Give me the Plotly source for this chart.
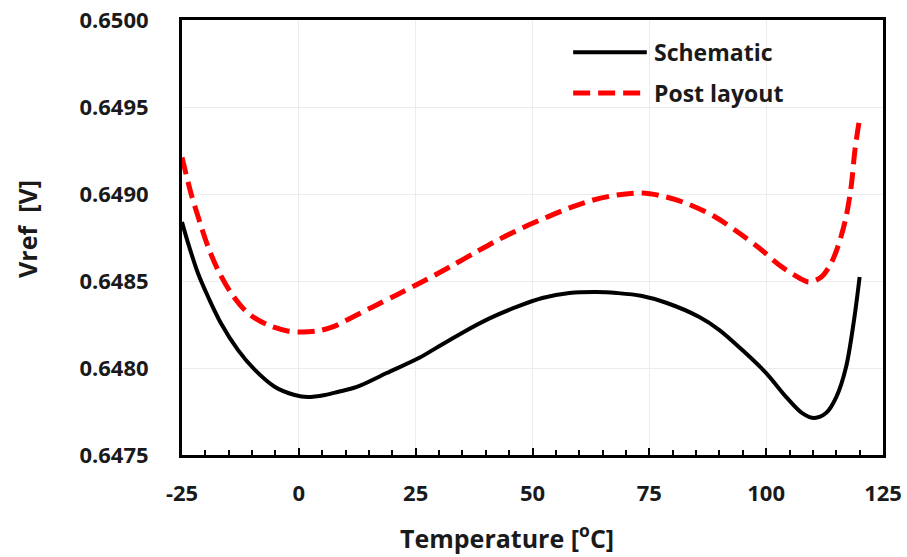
import plotly.graph_objects as go

# Schematic simulation: temperature (°C) and reference voltage (V)
temp_schematic = [-25, -23.7, -21.6, -19.4, -16.7, -13.0, -9.4, -5.1, -0.9, 1.9, 5.6,
                  8.3, 12.4, 18.8, 25.9, 29.5, 35.0, 40.8, 46.6, 52.1, 57.9, 63.7, 68.0,
                  73.2, 78.6, 85.7, 90.0, 94.9, 100.0, 104.3, 107.7, 110.3, 112.8, 115.0,
                  117.1, 118.8, 120]
vref_schematic = [0.648839, 0.648718, 0.648546, 0.648408, 0.648259, 0.648103, 0.647989,
                  0.647891, 0.647845, 0.647833, 0.647845, 0.647862, 0.647891, 0.647971,
                  0.648060, 0.648117, 0.648203, 0.648285, 0.648351, 0.648402, 0.648431,
                  0.648437, 0.648431, 0.648415, 0.648375, 0.648293, 0.648218, 0.648103,
                  0.647971, 0.647833, 0.647741, 0.647713, 0.647741, 0.647833, 0.648006,
                  0.648276, 0.648523]

# Post-layout simulation: temperature (°C) and reference voltage (V)
temp_post_layout = [-25, -23.1, -21.2, -19.4, -17.3, -14.5, -10.9, -6.6, -2.4, 0.4, 4.0,
                    7.7, 10.3, 15.8, 20.9, 25.9, 28.0, 32.9, 38.0, 42.9, 47.9, 53.0, 57.9,
                    62.8, 68.0, 73.5, 78.6, 83.5, 89.3, 94.2, 98.5, 102.8, 107.1, 109.2,
                    111.8, 113.9, 115.6, 117.1, 118.2, 119.0, 120]
vref_post_layout = [0.649210, 0.649006, 0.648839, 0.648695, 0.648563, 0.648431, 0.648316,
                    0.648247, 0.648213, 0.648207, 0.648213, 0.648241, 0.648276, 0.648351,
                    0.648420, 0.648489, 0.648518, 0.648590, 0.648668, 0.648740, 0.648806,
                    0.648866, 0.648920, 0.648964, 0.648994, 0.649006, 0.648983, 0.648940,
                    0.648865, 0.648776, 0.648690, 0.648592, 0.648517, 0.648494, 0.648523,
                    0.648603, 0.648718, 0.648868, 0.649045, 0.649253, 0.649435]

x_ticks = [-25, 0, 25, 50, 75, 100, 125]
y_ticks = [0.6475, 0.6480, 0.6485, 0.6490, 0.6495, 0.6500]
y_ticklabels = [f"{v:.4f}" for v in y_ticks]

FONT = "Open Sans"
TEXT = "#1a1a1a"
BLACK = "#000000"
RED = "#ff0000"
DASH = "17px,8px"

fig = go.Figure()
fig.add_trace(go.Scatter(
    x=temp_schematic, y=vref_schematic, mode="lines", name="Schematic",
    line=dict(color=BLACK, width=4, shape="spline", smoothing=0.9),
    showlegend=False,
))
fig.add_trace(go.Scatter(
    x=temp_post_layout, y=vref_post_layout, mode="lines", name="Post layout",
    line=dict(color=RED, width=5, dash=DASH, shape="spline", smoothing=0.9),
    showlegend=False,
))

# Legend drawn as line samples plus labels
legend_items = [("Schematic", BLACK, "solid", 4, 0.926, 0.663),
                ("Post layout", RED, DASH, 5, 0.832, 0.655)]
for label, color, dash, width, ypos, xend in legend_items:
    fig.add_shape(type="line", xref="paper", yref="paper",
                  x0=0.558, x1=xend, y0=ypos, y1=ypos,
                  line=dict(color=color, width=width, dash=dash))
    fig.add_annotation(xref="paper", yref="paper", x=0.671, y=ypos,
                       text=f"<b>{label}</b>", showarrow=False,
                       xanchor="left", yanchor="middle",
                       font=dict(family=FONT, size=23, color=TEXT))

# Axis titles
fig.add_annotation(xref="paper", yref="paper", x=0.463, y=-0.188,
                   text="<b>Temperature [<sup>o</sup>C]</b>", showarrow=False,
                   xanchor="center", yanchor="middle",
                   font=dict(family=FONT, size=25, color=TEXT))
fig.add_annotation(xref="paper", yref="paper", x=-0.221, y=0.52,
                   text="<b>Vref  [V]</b>", showarrow=False, textangle=-90,
                   xanchor="center", yanchor="middle",
                   font=dict(family=FONT, size=25, color=TEXT))

fig.update_layout(
    width=907, height=557,
    margin=dict(l=182, r=24, t=20, b=102, autoexpand=False),
    paper_bgcolor="white", plot_bgcolor="white",
    font=dict(family=FONT, color=TEXT),
    showlegend=False,
)
fig.update_xaxes(
    range=[-25, 125], tickvals=x_ticks, ticktext=[f"<b>{v}</b>" for v in x_ticks],
    tickfont=dict(family=FONT, size=22, color=TEXT),
    showline=True, linecolor=BLACK, linewidth=3, mirror=True,
    showgrid=True, gridcolor="#ececec", gridwidth=1, zeroline=False,
    ticks="inside", ticklen=7, tickwidth=2, tickcolor=BLACK,
    minor=dict(ticks="inside", dtick=5, tick0=0, ticklen=5, tickwidth=2,
               tickcolor=BLACK, showgrid=False),
    ticklabelstandoff=17, automargin=False,
)
fig.update_yaxes(
    range=[0.6475, 0.6500], tickvals=y_ticks,
    ticktext=[f"<b>{t}</b>" for t in y_ticklabels],
    tickfont=dict(family=FONT, size=22, color=TEXT),
    showline=True, linecolor=BLACK, linewidth=3, mirror=True,
    showgrid=True, gridcolor="#ececec", gridwidth=1, zeroline=False,
    ticks="", ticklabelstandoff=26, automargin=False,
)

fig.write_html("out.html")
